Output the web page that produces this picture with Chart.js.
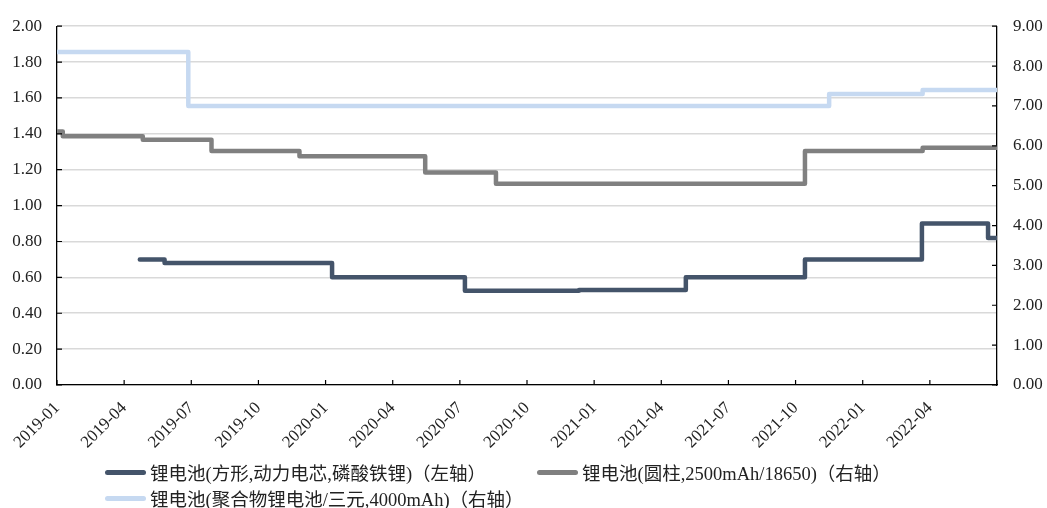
<!DOCTYPE html>
<html lang="zh">
<head>
<meta charset="utf-8">
<title>锂电池价格</title>
<style>
  html, body { margin: 0; padding: 0; background: #fff; }
  #wrap { position: relative; width: 1047px; height: 508px; }
  #legend { position: absolute; left: 0; top: 0; width: 1047px; height: 508px; pointer-events: none;
            font: 18.5px "Liberation Serif", "Noto Sans CJK SC", serif; color: #222; }
  .item { position: absolute; display: flex; align-items: center; white-space: nowrap; height: 24px; }
  .item i { display: inline-block; width: 41px; height: 5px; border-radius: 3px; margin-right: 4px; }
</style>
</head>
<body>
<div id="wrap">
  <canvas id="priceChart" width="1047" height="508"></canvas>
  <div id="legend"></div>
</div>
<script src="https://cdn.jsdelivr.net/npm/chart.js"></script>
<script>

   // x axis runs 2019-01 .. 2022-07, labelled every quarter
   const startYear = 2019;
   const axisMonths = 42;

   // 锂电池(方形,动力电芯,磷酸铁锂) - left axis
   const lfpDates  = ['2019-04-22','2019-05-26','2020-01-10','2020-07-08','2020-12-11','2021-05-04','2021-10-14','2022-03-21','2022-06-19','2022-07-01'];
   const lfpValues = [0.70, 0.68, 0.60, 0.525, 0.53, 0.60, 0.70, 0.90, 0.82, 0.82];

   // 锂电池(圆柱,2500mAh/18650) - right axis
   const cylDates  = ['2019-01-01','2019-01-09','2019-04-26','2019-07-29','2019-11-26','2020-05-15','2020-08-20','2021-10-14','2022-03-22','2022-07-01'];
   const cylValues = [6.36, 6.24, 6.15, 5.87, 5.74, 5.33, 5.05, 5.87, 5.95, 5.95];

   // 锂电池(聚合物锂电池/三元,4000mAh) - right axis
   const polyDates  = ['2019-01-01','2019-06-27','2021-11-16','2022-03-22','2022-07-01'];
   const polyValues = [8.35, 7.00, 7.30, 7.40, 7.40];

   const seriesNames = [
      '锂电池(方形,动力电芯,磷酸铁锂)（左轴）',
      '锂电池(圆柱,2500mAh/18650)（右轴）',
      '锂电池(聚合物锂电池/三元,4000mAh)（右轴）'
   ];
   const seriesColors = ['#44546A', '#808080', '#C6D9F1'];

   function monthIndex(d){
      const [y, m, day] = d.split('-').map(Number);
      const dim = new Date(y, m, 0).getDate();
      return (y - startYear) * 12 + (m - 1) + (day - 1) / dim;
   }

   function toPoints(dates, values){
      return dates.map((d, i) => ({ x: monthIndex(d), y: values[i] }));
   }

   function monthLabel(v){
      if (v >= axisMonths) return '';
      const y = startYear + Math.floor(v / 12);
      const m = (v % 12) + 1;
      return y + '-' + (m < 10 ? '0' + m : m);
   }

   const serif = '"Liberation Serif", "Noto Sans CJK SC", serif';
   Chart.defaults.font.family = serif;
   Chart.defaults.color = '#222';

   // tick marks in this chart point into the plot area
   const innerTicks = {
      id: 'innerTicks',
      afterDatasetsDraw(chart){
         const ctx = chart.ctx;
         const area = chart.chartArea;
         const len = 5;
         ctx.save();
         ctx.strokeStyle = '#000';
         ctx.lineWidth = 1.2;
         ctx.beginPath();
         chart.scales.x.ticks.forEach(t => {
            const px = chart.scales.x.getPixelForValue(t.value);
            ctx.moveTo(px, area.bottom);
            ctx.lineTo(px, area.bottom - len);
         });
         chart.scales.yL.ticks.forEach(t => {
            const py = chart.scales.yL.getPixelForValue(t.value);
            ctx.moveTo(area.left, py);
            ctx.lineTo(area.left + len, py);
         });
         chart.scales.yR.ticks.forEach(t => {
            const py = chart.scales.yR.getPixelForValue(t.value);
            ctx.moveTo(area.right, py);
            ctx.lineTo(area.right - len, py);
         });
         ctx.stroke();
         ctx.restore();
      }
   };

   function lineSet(i, pts, axis){
      return {
         label: seriesNames[i],
         data: pts,
         yAxisID: axis,
         borderColor: seriesColors[i],
         backgroundColor: seriesColors[i],
         borderWidth: 4.5,
         borderCapStyle: 'round',
         borderJoinStyle: 'round',
         stepped: 'before',
         pointRadius: 0,
         fill: false
      };
   }

   const PriceChart = new Chart(document.getElementById('priceChart'), {
      type: 'line',
      data: {
         datasets: [
            lineSet(0, toPoints(lfpDates, lfpValues), 'yL'),
            lineSet(1, toPoints(cylDates, cylValues), 'yR'),
            lineSet(2, toPoints(polyDates, polyValues), 'yR')
         ]
      },
      options: {
         responsive: false,
         animation: false,
         layout: { padding: { top: 21, bottom: 0, left: 0, right: 0 } },
         plugins: {
            legend: { display: false },
            tooltip: { enabled: false }
         },
         scales: {
            x: {
               type: 'linear',
               min: 0,
               max: axisMonths,
               grid: { display: false },
               border: { display: true, color: '#000', width: 1.3 },
               ticks: {
                  stepSize: 3,
                  autoSkip: false,
                  minRotation: 45,
                  maxRotation: 45,
                  padding: 5,
                  font: { size: 17 },
                  callback: v => monthLabel(v)
               },
               afterFit: s => { s.height = 123; }
            },
            yL: {
               position: 'left',
               min: 0,
               max: 2,
               grid: { color: '#d9d9d9', lineWidth: 1.5, drawTicks: false },
               border: { display: true, color: '#000', width: 1.3 },
               ticks: { stepSize: 0.2, padding: 15, font: { size: 17 }, callback: v => v.toFixed(2) },
               afterFit: s => { s.width = 57; }
            },
            yR: {
               position: 'right',
               min: 0,
               max: 9,
               grid: { display: false, drawTicks: false },
               border: { display: true, color: '#000', width: 1.3 },
               ticks: { stepSize: 1, padding: 16, font: { size: 17 }, callback: v => v.toFixed(2) },
               afterFit: s => { s.width = 50; }
            }
         }
      },
      plugins: [innerTicks]
   });

   // legend laid out like the original: two items on the first row, one below
   const legendSpots = [[105, 460], [537, 460], [105, 486]];
   const legendBox = document.getElementById('legend');
   PriceChart.data.datasets.forEach((ds, i) => {
      const el = document.createElement('div');
      el.className = 'item';
      el.style.left = legendSpots[i][0] + 'px';
      el.style.top = legendSpots[i][1] + 'px';
      const sw = document.createElement('i');
      sw.style.background = ds.borderColor;
      el.appendChild(sw);
      el.appendChild(document.createTextNode(ds.label));
      legendBox.appendChild(el);
   });

</script>
</body>
</html>
